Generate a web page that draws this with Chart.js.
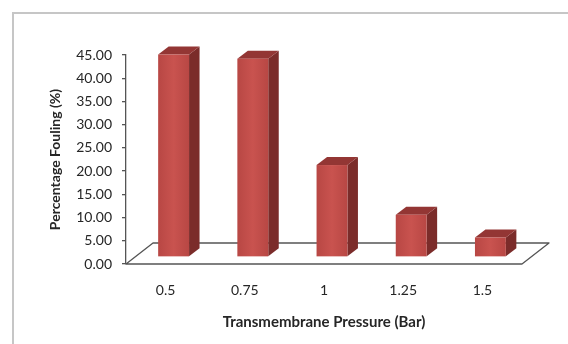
<!DOCTYPE html>
<html>
<head>
<meta charset="utf-8">
<script src="https://cdn.jsdelivr.net/npm/chart.js@4.4.1/dist/chart.umd.min.js"></script>
<style>
  html, body { margin: 0; padding: 0; background: #ffffff; }
  #wrap { width: 568px; height: 344px; position: relative; }
</style>
</head>
<body>
<div id="wrap"><canvas id="chart" width="568" height="344"></canvas></div>
<script>
// Transmembrane pressure (bar) and the resulting percentage fouling
const pressures = ['0.5', '0.75', '1', '1.25', '1.5'];
const fouling = [43.6, 42.7, 19.8, 9.1, 4.2];

// Value axis range
const yMin = 0;
const yMax = 45;
const yStep = 5;

// Oblique projection used for the pseudo-3D look
const FLOOR_DEPTH = { dx: 27, dy: -21 };
const BAR_FRONT = { dx: 8, dy: -7 };
const BAR_DEPTH = { dx: 10.5, dy: -8 };

const COLORS = {
  frontEdge: '#b84744',
  frontMid: '#c9534f',
  top: '#933634',
  side: '#7b2c2a',
  axis: '#555555',
  text: '#262626',
  frame: '#c6c6c6'
};

const FONT = 'Lato, "Open Sans", "Liberation Sans", sans-serif';

// Light frame around the chart (top and left edges)
const framePlugin = {
  id: 'frame',
  beforeDraw(chart) {
    const ctx = chart.ctx;
    ctx.save();
    ctx.fillStyle = '#ffffff';
    ctx.fillRect(0, 0, chart.width, chart.height);
    ctx.strokeStyle = COLORS.frame;
    ctx.lineWidth = 2;
    ctx.beginPath();
    ctx.moveTo(13, chart.height + 2);
    ctx.lineTo(13, 13);
    ctx.lineTo(chart.width + 2, 13);
    ctx.stroke();
    ctx.restore();
  }
};

// Floor parallelogram under the columns
const floorPlugin = {
  id: 'floor',
  beforeDatasetsDraw(chart) {
    const { left, right, bottom } = chart.chartArea;
    const ctx = chart.ctx;
    ctx.save();
    ctx.strokeStyle = COLORS.axis;
    ctx.lineWidth = 1.3;
    ctx.lineJoin = 'round';
    ctx.beginPath();
    ctx.moveTo(left, bottom);
    ctx.lineTo(right, bottom);
    ctx.lineTo(right + FLOOR_DEPTH.dx, bottom + FLOOR_DEPTH.dy);
    ctx.lineTo(left + FLOOR_DEPTH.dx, bottom + FLOOR_DEPTH.dy);
    ctx.closePath();
    ctx.stroke();
    ctx.restore();
  }
};

function poly(ctx, pts, fill) {
  ctx.beginPath();
  ctx.moveTo(pts[0][0], pts[0][1]);
  for (let i = 1; i < pts.length; i++) ctx.lineTo(pts[i][0], pts[i][1]);
  ctx.closePath();
  ctx.fillStyle = fill;
  ctx.fill();
}

// Columns drawn as boxes from the bar elements laid out by Chart.js
const boxPlugin = {
  id: 'boxes',
  afterDatasetsDraw(chart) {
    const ctx = chart.ctx;
    const meta = chart.getDatasetMeta(0);
    ctx.save();
    meta.data.forEach(bar => {
      const { x, y, base, width } = bar.getProps(['x', 'y', 'base', 'width'], true);
      const l = x - width / 2 + BAR_FRONT.dx;
      const r = x + width / 2 + BAR_FRONT.dx;
      const t = y + BAR_FRONT.dy;
      const b = base + BAR_FRONT.dy;
      const d = BAR_DEPTH;
      poly(ctx, [[r, b], [r + d.dx, b + d.dy], [r + d.dx, t + d.dy], [r, t]], COLORS.side);
      poly(ctx, [[l, t], [l + d.dx, t + d.dy], [r + d.dx, t + d.dy], [r, t]], COLORS.top);
      const g = ctx.createLinearGradient(l, 0, r, 0);
      g.addColorStop(0, COLORS.frontEdge);
      g.addColorStop(0.5, COLORS.frontMid);
      g.addColorStop(1, COLORS.frontEdge);
      ctx.fillStyle = g;
      ctx.fillRect(l, t, r - l, b - t);
    });
    ctx.restore();
  }
};

new Chart(document.getElementById('chart'), {
  type: 'bar',
  data: {
    labels: pressures,
    datasets: [{
      label: 'Percentage Fouling (%)',
      data: fouling,
      backgroundColor: 'rgba(0,0,0,0)',
      borderWidth: 0,
      categoryPercentage: 1,
      barPercentage: 0.39
    }]
  },
  options: {
    responsive: false,
    animation: false,
    layout: { padding: { left: 47, right: 46, top: 55, bottom: 10 } },
    plugins: {
      legend: { display: false },
      tooltip: { enabled: false }
    },
    scales: {
      x: {
        grid: { display: false, drawTicks: false },
        border: { display: false },
        ticks: { padding: 18, color: COLORS.text, font: { family: FONT, size: 14 } },
        title: {
          display: true,
          text: 'Transmembrane Pressure (Bar)',
          color: COLORS.text,
          font: { family: FONT, size: 15, weight: 'bold' },
          padding: { top: 0, bottom: 3 }
        },
        afterFit(scale) { scale.height = 70; }
      },
      y: {
        min: yMin,
        max: yMax,
        grid: { drawOnChartArea: false, drawTicks: true, tickLength: 4, color: COLORS.axis, lineWidth: 1.3 },
        border: { display: true, color: COLORS.axis, width: 1.3 },
        ticks: {
          stepSize: yStep,
          padding: 10,
          color: COLORS.text,
          font: { family: FONT, size: 14 },
          callback: v => Number(v).toFixed(2)
        },
        title: {
          display: true,
          text: 'Percentage Fouling (%)',
          color: COLORS.text,
          font: { family: FONT, size: 14, weight: 'bold' },
          padding: { top: 0, bottom: 0 }
        },
        afterFit(scale) { scale.width = 79; }
      }
    }
  },
  plugins: [framePlugin, floorPlugin, boxPlugin]
});
</script>
</body>
</html>
